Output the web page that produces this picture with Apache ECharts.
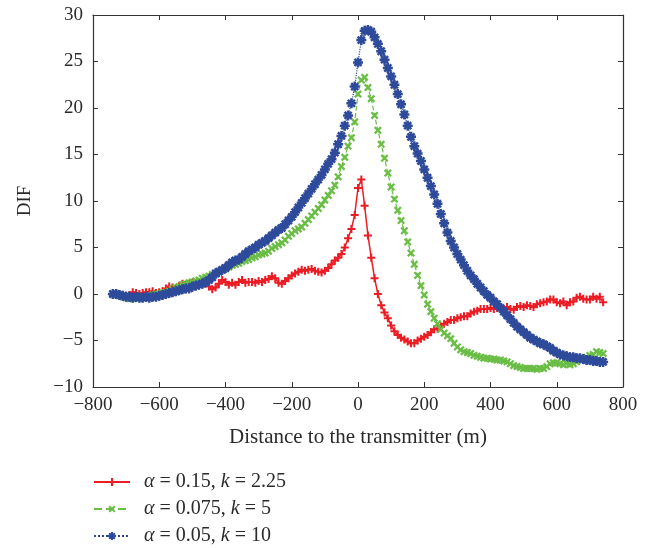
<!DOCTYPE html>
<html>
<head>
<meta charset="utf-8">
<script src="https://cdn.jsdelivr.net/npm/echarts@6/dist/echarts.min.js"></script>
<style>
html,body{margin:0;padding:0;background:#fff;}
#chart{width:654px;height:548px;}
</style>
</head>
<body>
<div id="chart"></div>
<script>
// Distances (m): -740 .. 740 step 10
var distances = [];
for (var d = -740; d <= 740; d += 10) distances.push(d);

var seriesNames = ['{i|α} = 0.15, {i|k} = 2.25', '{i|α} = 0.075, {i|k} = 5', '{i|α} = 0.05, {i|k} = 10'];

var redValues = [
-0.1,0.0,-0.2,-0.3,-0.2,-0.1,0.2,0.1,0.0,0.1,
0.2,0.2,0.3,0.1,0.2,0.3,0.6,0.8,0.7,0.6,
0.9,1.1,1.0,1.1,1.2,1.0,1.0,1.1,1.2,0.8,
0.5,0.7,1.1,1.5,1.3,1.0,1.2,1.0,1.3,1.5,
1.2,1.3,1.3,1.2,1.4,1.3,1.5,1.6,1.9,1.7,
1.2,1.1,1.4,1.7,2.0,2.2,2.4,2.6,2.5,2.6,
2.7,2.5,2.4,2.3,2.5,2.8,3.2,3.6,3.9,4.3,
5.0,6.0,7.0,8.5,11.4,12.3,9.5,6.3,3.9,1.7,
0.0,-1.2,-2.0,-2.6,-3.4,-4.0,-4.4,-4.7,-4.9,-5.1,
-5.3,-5.3,-5.0,-4.8,-4.6,-4.4,-4.1,-3.8,-3.7,-3.5,
-3.2,-3.0,-2.8,-2.8,-2.6,-2.5,-2.4,-2.4,-2.1,-1.9,
-1.8,-1.6,-1.6,-1.6,-1.5,-1.6,-1.5,-1.5,-1.6,-1.4,
-1.6,-1.7,-1.4,-1.3,-1.4,-1.2,-1.3,-1.4,-1.1,-1.0,
-0.9,-0.8,-0.6,-0.6,-0.9,-1.0,-0.8,-1.2,-0.9,-0.8,
-0.4,-0.3,-0.5,-0.6,-0.6,-0.3,-0.5,-0.3,-0.9
];

var greenValues = [
0.0,-0.1,-0.2,-0.3,-0.4,-0.5,-0.5,-0.4,-0.4,-0.3,
-0.3,-0.2,-0.1,0.0,0.0,0.1,0.2,0.3,0.5,0.7,
0.8,1.0,1.1,1.2,1.3,1.4,1.5,1.7,1.8,1.9,
2.1,2.2,2.4,2.6,2.7,2.9,3.1,3.2,3.3,3.5,
3.6,3.7,3.9,4.0,4.2,4.3,4.4,4.6,4.9,5.1,
5.3,5.5,5.8,6.2,6.5,6.8,7.0,7.2,7.6,8.0,
8.4,8.8,9.2,9.6,10.1,10.6,11.1,11.7,12.6,13.7,
14.7,15.9,16.8,18.5,21.5,23.0,23.3,22.2,21.0,19.2,
17.6,16.1,14.6,13.0,11.5,10.2,9.0,7.9,6.8,5.6,
4.4,3.2,2.0,0.9,-0.1,-1.1,-1.9,-2.6,-3.2,-3.8,
-4.2,-4.5,-4.8,-5.3,-5.7,-6.0,-6.2,-6.3,-6.4,-6.6,
-6.7,-6.8,-6.9,-6.9,-7.0,-7.0,-7.1,-7.1,-7.2,-7.3,
-7.5,-7.7,-7.8,-7.9,-8.0,-8.0,-8.0,-8.0,-8.1,-8.0,
-8.0,-7.8,-7.5,-7.4,-7.4,-7.5,-7.6,-7.5,-7.6,-7.5,
-7.3,-7.1,-7.0,-6.8,-6.6,-6.5,-6.2,-6.3,-6.4
];

var blueValues = [
0.0,0.0,-0.1,-0.2,-0.3,-0.3,-0.4,-0.3,-0.4,-0.4,
-0.3,-0.4,-0.3,-0.3,-0.2,-0.1,0.0,0.1,0.2,0.3,
0.4,0.5,0.6,0.6,0.8,0.9,1.0,1.1,1.3,1.5,
1.8,2.2,2.4,2.6,2.8,3.1,3.4,3.6,3.7,4.0,
4.3,4.6,4.8,5.0,5.3,5.5,5.7,6.0,6.3,6.6,
6.9,7.1,7.5,7.9,8.3,8.8,9.3,9.8,10.3,10.8,
11.3,11.8,12.3,12.8,13.4,14.0,14.5,15.2,16.1,17.0,
18.1,19.2,20.5,22.3,24.9,27.3,28.3,28.4,28.2,27.6,
26.9,26.1,25.2,24.3,23.4,22.5,21.5,20.4,19.3,18.1,
16.9,15.9,15.1,14.3,13.4,12.5,11.6,10.7,9.7,8.6,
7.6,6.6,5.7,5.0,4.3,3.7,3.1,2.5,2.0,1.6,
1.1,0.7,0.3,-0.1,-0.4,-0.8,-1.1,-1.5,-1.9,-2.3,
-2.7,-3.1,-3.5,-3.8,-4.1,-4.4,-4.7,-4.9,-5.1,-5.3,
-5.4,-5.6,-5.8,-6.1,-6.3,-6.5,-6.6,-6.7,-6.8,-6.8,
-6.9,-6.9,-7.0,-7.1,-7.1,-7.2,-7.2,-7.3,-7.3
];

var xTicks = {min: -800, max: 800, interval: 200};
var yTicks = {min: -10, max: 30, interval: 5};

function pairs(vals){ return distances.map(function(x,i){ return [x, vals[i]]; }); }
function minusFmt(v){ return String(v).replace('-', '\u2212'); }

var plusPath = 'path://M-1.5,-6H1.5V-1.5H6V1.5H1.5V6H-1.5V1.5H-6V-1.5H-1.5Z';
var starPath = 'path://M-1.5,-6H1.5V-1.5H6V1.5H1.5V6H-1.5V1.5H-6V-1.5H-1.5Z M-3.182,-5.303L5.303,3.182L3.182,5.303L-5.303,-3.182Z M-5.303,3.182L3.182,-5.303L5.303,-3.182L-3.182,5.303Z';

var FONT = 'Liberation Serif';
var axisColor = '#333';
var textColor = '#2a2a2a';

var chart = echarts.init(document.getElementById('chart'), null, {renderer:'canvas'});
var baseX = {
  type:'value', min:xTicks.min, max:xTicks.max, interval:xTicks.interval,
  axisLine:{show:true, onZero:false, lineStyle:{color:axisColor, width:1.2}},
  axisTick:{show:true, inside:true, length:5, lineStyle:{color:axisColor}},
  splitLine:{show:false}
};
var baseY = {
  type:'value', min:yTicks.min, max:yTicks.max, interval:yTicks.interval,
  axisLine:{show:true, onZero:false, lineStyle:{color:axisColor, width:1.2}},
  axisTick:{show:true, inside:true, length:5, lineStyle:{color:axisColor}},
  splitLine:{show:false}
};
var option = {
  animation:false,
  backgroundColor:'#fff',
  grid:{left:93, right:31, top:15, bottom:161},
  xAxis:[
    Object.assign({}, baseX, {position:'bottom',
      axisLabel:{show:true, margin:9, color:textColor, fontFamily:FONT, fontSize:19, formatter:minusFmt},
      name:'Distance to the transmitter (m)', nameLocation:'middle', nameGap:40,
      nameTextStyle:{color:textColor, fontFamily:FONT, fontSize:21}}),
    Object.assign({}, baseX, {position:'top', axisLabel:{show:false}})
  ],
  yAxis:[
    Object.assign({}, baseY, {position:'left',
      axisLabel:{show:true, margin:10, color:textColor, fontFamily:FONT, fontSize:19, formatter:minusFmt},
      name:'DIF', nameLocation:'middle', nameGap:58, nameRotate:90,
      nameTextStyle:{color:textColor, fontFamily:FONT, fontSize:19}}),
    Object.assign({}, baseY, {position:'right', axisLabel:{show:false}})
  ],
  legend:{
    orient:'vertical', left:93, top:472, height:120, padding:0, itemWidth:36, itemHeight:10, itemGap:7,
    textStyle:{color:textColor, fontFamily:FONT, fontSize:20, lineHeight:20, padding:[0,0,0,9],
      rich:{i:{fontStyle:'italic', fontFamily:FONT, fontSize:20, lineHeight:20, color:textColor}}},
    data:seriesNames
  },
  series:[
    {name:seriesNames[0], type:'line', data:pairs(redValues), symbol:plusPath, symbolSize:8,
     lineStyle:{color:'#ec1c24', width:1.5, type:'solid'}, itemStyle:{color:'#ec1c24'}, z:2},
    {name:seriesNames[1], type:'line', data:pairs(greenValues), symbol:plusPath, symbolRotate:45, symbolSize:9,
     lineStyle:{color:'#6abd45', width:1.2, type:'dashed'}, itemStyle:{color:'#6abd45'}, z:3},
    {name:seriesNames[2], type:'line', data:pairs(blueValues), symbol:starPath, symbolSize:10,
     lineStyle:{color:'#2e4b9b', width:1.2, type:'dotted'}, itemStyle:{color:'#2e4b9b'}, z:4}
  ]
};
chart.setOption(option);
</script>
</body>
</html>
